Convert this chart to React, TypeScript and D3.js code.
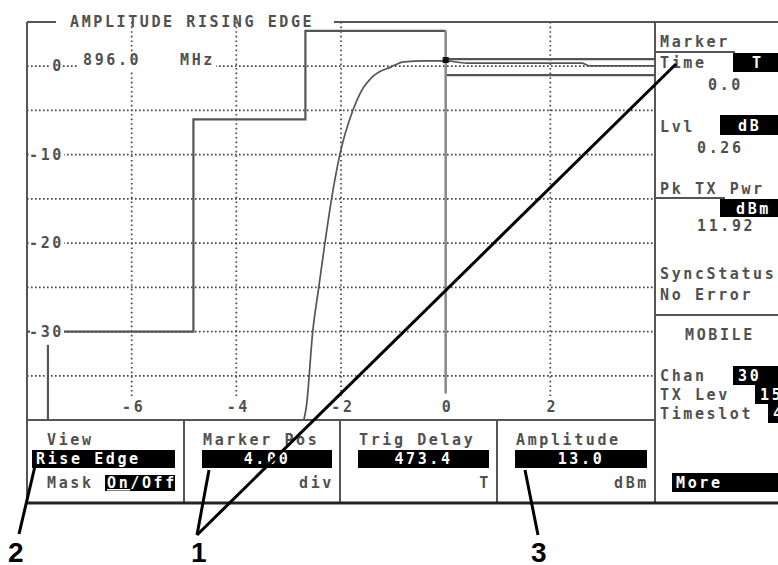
import * as d3 from 'd3';
import React from 'react';

// 화면 크기
const W = 778;
const H = 565;

// 축 / 눈금
const xTicks = [-6, -4, -2, 0, 2];
const yGrid = [0, -5, -10, -15, -20, -25, -30, -35];
const yLabels = [0, -10, -20, -30];

// 측정 파형 (시간: bit, 레벨: dB)
const traceTime = [-2.71, -2.66, -2.54, -2.43, -2.31, -2.18, -2.03, -1.78, -1.62, -1.38, -1.05, -0.8, -0.4, 0, 0.4, 2.6, 2.75, 4];
const traceLevel = [-40, -38.4, -30, -25.2, -20.1, -15, -10.2, -5.1, -2.9, -1.1, -0.1, 0.5, 0.6, 0.6, 0.35, 0.35, 0.05, 0.05];

// 마스크
const upperMaskTime = [-8, -4.82, -4.82, -2.68, -2.68, 0];
const upperMaskLevel = [-30, -30, -6, -6, 4, 4];
const upperTailTime = [0, 4];
const upperTailLevel = [0.8, 0.8];
const lowerTailTime = [0, 4];
const lowerTailLevel = [-1, -1];
const leftEdgeTime = [-7.6, -7.6];
const leftEdgeLevel = [-31.5, -40];

// 마커
const markerTime = 0;
const markerLevel = 0.7;
const markerBottom = -37;

// 하단 소프트키
const softkeyTitles = ['View', 'Marker Pos', 'Trig Delay', 'Amplitude'];
const softkeyValues = ['Rise Edge', '4.00', '473.4', '13.0'];
const softkeyUnits = ['', 'div', 'T', 'dBm'];

// 오른쪽 패널
const rightLabels = ['Marker', 'Time', '0.0', 'Lvl', '0.26', 'Pk TX Pwr', '11.92', 'SyncStatus', 'No Error'];
const mobileLabels = ['Chan', 'TX Lev', 'Timeslot'];
const mobileValues = ['30', '15', '4'];

const GRAY = '#505050';
const MONO = 'DejaVu Sans Mono, monospace';

const Txt: React.FC<{ x: number; y: number; children: React.ReactNode; anchor?: string; fill?: string }> = ({
    x, y, children, anchor = 'start', fill = GRAY,
}) => (
    <text x={x} y={y} textAnchor={anchor as any} fill={fill} fontFamily={MONO} fontSize={15} fontWeight="bold" letterSpacing={2.6}>
        {children}
    </text>
);

export default function App() {
    const left = 27, right = 655, top = 22, bottom = 420;
    const x = d3.scaleLinear().domain([-8, 4]).range([left, right]);
    const y = d3.scaleLinear().domain([-40, 5]).range([bottom, top]);

    const pts = (t: number[], l: number[]) => t.map((v, i) => [v, l[i]] as [number, number]);
    const step = d3.line<[number, number]>().x((d) => x(d[0])).y((d) => y(d[1]));
    const smooth = d3
        .line<[number, number]>()
        .x((d) => x(d[0]))
        .y((d) => y(d[1]))
        .curve(d3.curveMonotoneX);

    const keyX = [27, 184, 340, 497, 655];

    return (
        <svg width={W} height={H} style={{ position: 'absolute', left: 0, top: 0, background: '#fff' }}>
            <rect width={W} height={H} fill="#fff" />

            {/* 그리드 */}
            <g stroke="#444" strokeWidth={1.7}>
                {yGrid.map((v) => (
                    <line key={v} x1={left} x2={right} y1={y(v)} y2={y(v)} strokeDasharray="1.6 2.4" />
                ))}
                {xTicks.filter((v) => v !== markerTime).map((v) => (
                    <line key={v} x1={x(v)} x2={x(v)} y1={top} y2={396} strokeDasharray="1.6 3" />
                ))}
            </g>

            {/* 마스크 */}
            <g fill="none" stroke="#555" strokeWidth={2.2}>
                <path d={step(pts(upperMaskTime, upperMaskLevel)) ?? ''} />
                <path d={step(pts(upperTailTime, upperTailLevel)) ?? ''} />
                <path d={step(pts(lowerTailTime, lowerTailLevel)) ?? ''} />
                <path d={step(pts(leftEdgeTime, leftEdgeLevel)) ?? ''} />
                <line x1={x(markerTime)} x2={x(markerTime)} y1={y(4)} y2={y(markerBottom)} stroke="#888" strokeWidth={2.5} />
            </g>

            {/* 파형 */}
            <path d={smooth(pts(traceTime, traceLevel)) ?? ''} fill="none" stroke="#555" strokeWidth={1.7} />
            <rect x={x(markerTime) - 3} y={y(markerLevel) - 3} width={6} height={6} fill="#111" />

            {/* Y 라벨 */}
            {yLabels.map((v) => (
                <g key={v}>
                    <rect x={v === 0 ? 50 : 30} y={y(v) - 7} width={v === 0 ? 13 : 34} height={14} fill="#fff" />
                    <Txt x={64} y={y(v) + 5} anchor="end">{v}</Txt>
                </g>
            ))}
            <rect x={79} y={y(0) - 11} width={137} height={16} fill="#fff" />
            <Txt x={83} y={65}>896.0</Txt>
            <Txt x={180} y={65}>MHz</Txt>

            {/* X 라벨 */}
            {xTicks.map((v) => (
                <Txt key={v} x={x(v) + 2} y={412} anchor="middle">{v}</Txt>
            ))}

            {/* 테두리 */}
            <g stroke="#555" strokeWidth={2}>
                <line x1={left} x2={left} y1={top} y2={503} />
                <line x1={left} x2={56} y1={top} y2={top} />
                <line x1={334} x2={W} y1={top} y2={top} />
                <line x1={right} x2={right} y1={top} y2={503} />
                <line x1={left} x2={right} y1={bottom} y2={bottom} />
                <line x1={right} x2={W} y1={315} y2={315} />
                {keyX.slice(1, 4).map((k) => (
                    <line key={k} x1={k} x2={k} y1={bottom} y2={503} />
                ))}
            </g>
            <line x1={left} x2={W} y1={503} y2={503} stroke="#222" strokeWidth={3} />
            <Txt x={70} y={27}>AMPLITUDE RISING EDGE</Txt>

            {/* 소프트키 */}
            {softkeyTitles.map((t, i) => {
                const x0 = keyX[i];
                const x1 = keyX[i + 1];
                const bx0 = i === 0 ? 32 : x0 + 18;
                const bx1 = i === 0 ? 175 : x1 - 8;
                return (
                    <g key={t}>
                        <Txt x={i === 0 ? 47 : x0 + 19} y={445}>{t}</Txt>
                        <rect x={bx0} y={450} width={bx1 - bx0} height={18} fill="#000" />
                        {i === 0 ? (
                            <Txt x={36} y={464} fill="#fff">{softkeyValues[i]}</Txt>
                        ) : (
                            <Txt x={(bx0 + bx1) / 2} y={464} anchor="middle" fill="#fff">{softkeyValues[i]}</Txt>
                        )}
                        {softkeyUnits[i] && (
                            <Txt x={x1 - 6} y={488} anchor="end">{softkeyUnits[i]}</Txt>
                        )}
                    </g>
                );
            })}
            <Txt x={47} y={488}>Mask</Txt>
            <rect x={105} y={475} width={70} height={16} fill="#000" />
            <Txt x={107} y={488} fill="#fff">
                <tspan textDecoration="underline">On</tspan>/Off
            </Txt>

            {/* 오른쪽 패널 */}
            <Txt x={660} y={47}>{rightLabels[0]}</Txt>
            <line x1={655} x2={735} y1={52} y2={52} stroke="#555" strokeWidth={2} />
            <Txt x={660} y={68}>{rightLabels[1]}</Txt>
            <rect x={733} y={53} width={50} height={19} fill="#000" />
            <Txt x={752} y={68} fill="#fff">T</Txt>
            <Txt x={708} y={90}>{rightLabels[2]}</Txt>
            <Txt x={660} y={132}>{rightLabels[3]}</Txt>
            <rect x={720} y={115} width={60} height={20} fill="#000" />
            <Txt x={738} y={131} fill="#fff">dB</Txt>
            <Txt x={697} y={153}>{rightLabels[4]}</Txt>
            <Txt x={660} y={194}>{rightLabels[5]}</Txt>
            <line x1={655} x2={725} y1={198} y2={198} stroke="#555" strokeWidth={2} />
            <rect x={720} y={199} width={60} height={18} fill="#000" />
            <Txt x={736} y={214} fill="#fff">dBm</Txt>
            <Txt x={697} y={231}>{rightLabels[6]}</Txt>
            <Txt x={660} y={279}>{rightLabels[7]}</Txt>
            <Txt x={660} y={300}>{rightLabels[8]}</Txt>

            <Txt x={685} y={340}>MOBILE</Txt>
            {mobileLabels.map((l, i) => {
                const bx = [733, 755, 768][i];
                const yy = 381 + i * 19;
                return (
                    <g key={l}>
                        <Txt x={660} y={yy}>{l}</Txt>
                        <rect x={bx} y={yy - 15} width={W - bx} height={19} fill="#000" />
                        <Txt x={bx + 5} y={yy} fill="#fff">{mobileValues[i]}</Txt>
                    </g>
                );
            })}
            <rect x={672} y={473} width={W - 672} height={19} fill="#000" />
            <Txt x={676} y={488} fill="#fff">More</Txt>

            {/* 콜아웃 */}
            <g stroke="#000" strokeWidth={3} fill="none">
                <line x1={19} y1={534} x2={35} y2={466} />
                <line x1={197} y1={535} x2={209} y2={470} />
                <line x1={197} y1={535} x2={676} y2={64} />
                <line x1={538} y1={535} x2={525} y2={470} />
            </g>
            <g fontFamily="Liberation Sans, Arial, sans-serif" fontWeight="bold" fontSize={28} fill="#000">
                <text x={8} y={562}>2</text>
                <text x={191} y={562}>1</text>
                <text x={531} y={562}>3</text>
            </g>
        </svg>
    );
}
